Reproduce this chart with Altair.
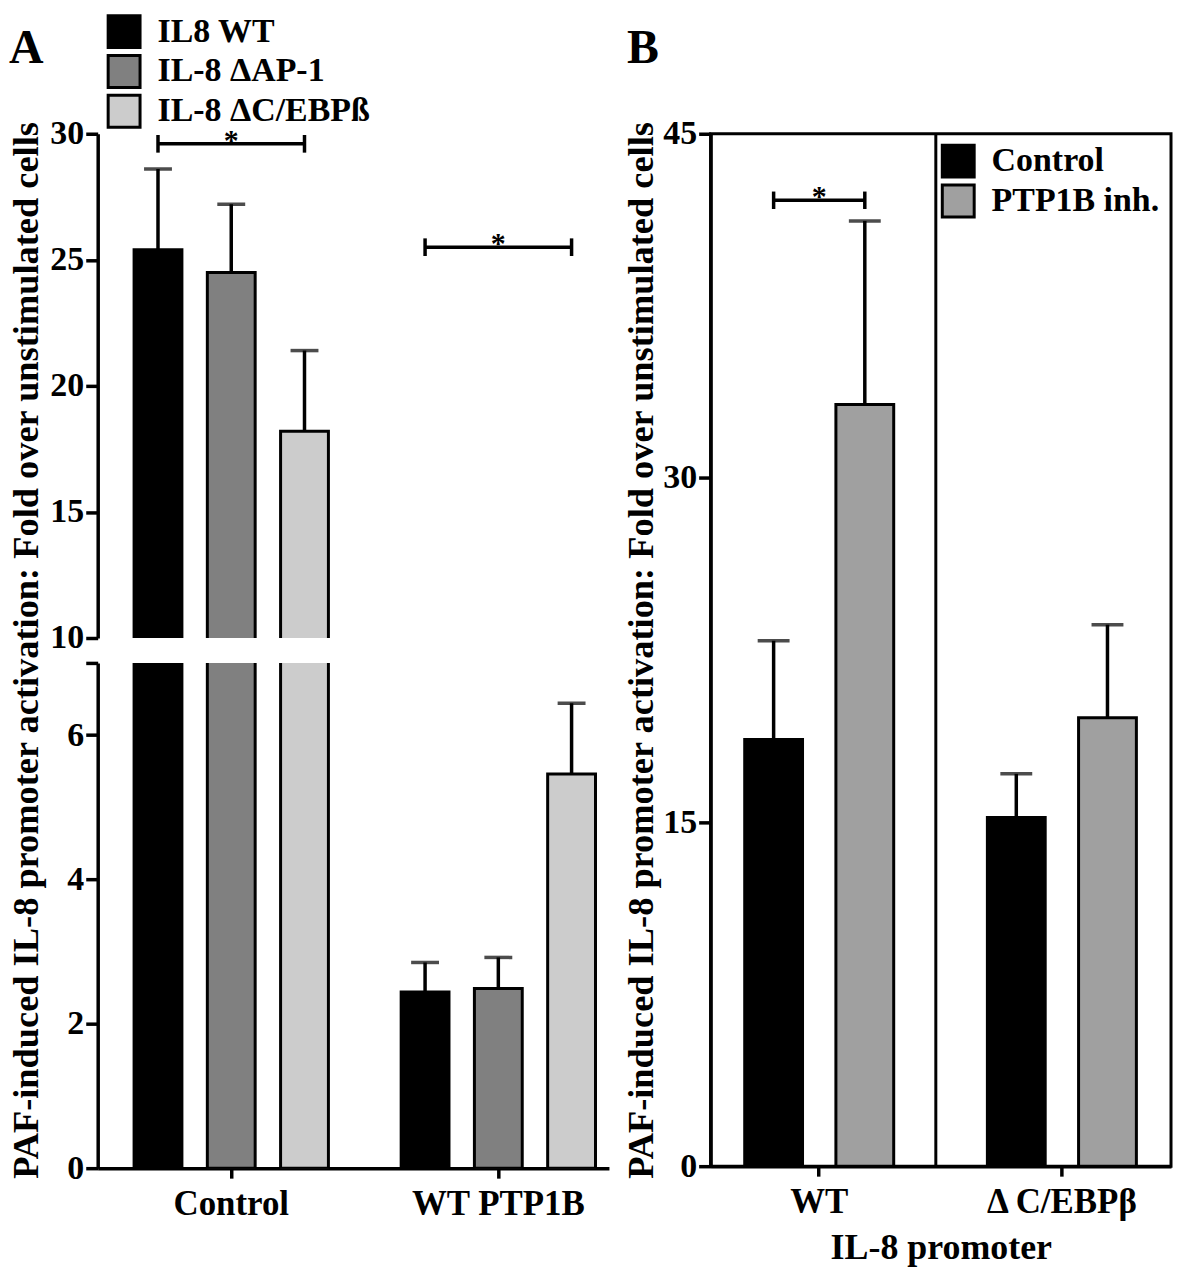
import altair as alt
import pandas as pd

FONT = "Liberation Serif"
Y_TITLE = "PAF-induced IL-8 promoter activation: Fold over unstimulated cells"

# ---------------- Panel A data ----------------
groups_a = ["Control", "WT PTP1B"]
series_a = ["IL8 WT", "IL-8 ΔAP-1", "IL-8 ΔC/EBPß"]
colors_a = ["#000000", "#808080", "#cccccc"]
mean_control_a = [25.4, 24.5, 18.2]
err_top_control_a = [28.6, 27.2, 21.4]
mean_ptp1b_a = [2.44, 2.49, 5.46]
err_top_ptp1b_a = [2.85, 2.92, 6.44]
sig_groups_a = ["Control", "WT PTP1B"]
sig_levels_a = [29.6, 25.5]

# ---------------- Panel B data ----------------
groups_b = ["WT", "Δ C/EBPβ"]
series_b = ["Control", "PTP1B inh."]
colors_b = ["#000000", "#a0a0a0"]
mean_wt_b = [18.6, 33.2]
err_top_wt_b = [22.9, 41.2]
mean_dc_b = [15.2, 19.55]
err_top_dc_b = [17.1, 23.6]
sig_groups_b = ["WT"]
sig_levels_b = [42.1]

# ---------------- tables ----------------
df_a = pd.DataFrame({
    "group": [g for g in groups_a for _ in series_a],
    "series": series_a * len(groups_a),
    "mean": mean_control_a + mean_ptp1b_a,
    "top": err_top_control_a + err_top_ptp1b_a,
})
df_b = pd.DataFrame({
    "group": [g for g in groups_b for _ in series_b],
    "series": series_b * len(groups_b),
    "mean": mean_wt_b + mean_dc_b,
    "top": err_top_wt_b + err_top_dc_b,
})


def brackets(groups, levels, series, half):
    rows = []
    for i, (g, lv) in enumerate(zip(groups, levels)):
        for s in (series[0], series[-1]):
            rows.append({"id": i, "group": g, "series": s, "level": lv,
                         "lo": lv - half, "hi": lv + half})
    return pd.DataFrame(rows)


br_a = brackets(sig_groups_a, sig_levels_a, series_a, 0.35)
br_b = brackets(sig_groups_b, sig_levels_b, series_b, 0.38)
star_a = pd.DataFrame({"group": sig_groups_a, "level": sig_levels_a, "t": ["*"] * len(sig_groups_a)})
star_b = pd.DataFrame({"group": sig_groups_b, "level": sig_levels_b, "t": ["*"] * len(sig_groups_b)})

# ---------------- scales ----------------
xs_a = alt.Scale(domain=groups_a, paddingInner=0.1772, paddingOuter=0.0457, align=0.97)
xo_a = alt.Scale(domain=series_a, paddingInner=0.347, paddingOuter=0.1735)
col_a = alt.Scale(domain=series_a, range=colors_a)

xs_b = alt.Scale(domain=groups_b, paddingInner=0.2485, paddingOuter=0.0729, align=0.493)
xo_b = alt.Scale(domain=series_b, paddingInner=0.366, paddingOuter=0.183)
col_b = alt.Scale(domain=series_b, range=colors_b)

legend_common = dict(title=None, orient="none", direction="vertical", symbolType="square",
                     symbolSize=1024, symbolStrokeColor="black", symbolStrokeWidth=3,
                     symbolOpacity=1, labelFont=FONT, labelFontSize=34, labelFontWeight="bold",
                     labelColor="black", labelLimit=600, labelOffset=16, rowPadding=-14, padding=0)
legend_a = alt.Legend(legendX=9, legendY=-120, **legend_common)
legend_b = alt.Legend(legendX=231, legendY=10, **legend_common)

W_A, H_UP, H_LO, GAP_A = 513, 506, 507, 25
W_B, H_B = 462, 1036
GAP_AB = 102
TITLE_SIZE = 36.5


def panel_a_part(ydomain, yvalues, top_part):
    ys = alt.Scale(domain=ydomain, nice=False, zero=False)
    if top_part:
        yax = alt.Axis(values=yvalues, titleX=-89, titleY=518, titleAngle=270,
                       titleAlign="center", titleBaseline="top", titleFontSize=TITLE_SIZE)
        ytitle = Y_TITLE
        xax = None
    else:
        yax = alt.Axis(values=yvalues, labelExpr="datum.value == 7 ? '' : datum.label")
        ytitle = None
        xax = alt.Axis(title=None, labelLimit=400)

    def X():
        return alt.X("group:N", scale=xs_a, axis=xax, title=None)

    def XO():
        return alt.XOffset("series:N", scale=xo_a)

    def Y(f):
        return alt.Y(f, type="quantitative", scale=ys, axis=yax, title=ytitle)

    color = alt.Color("series:N", scale=col_a, legend=legend_a)
    bars = alt.Chart(df_a).mark_bar(clip=True, stroke="black", strokeWidth=3).encode(
        x=X(), xOffset=XO(), y=Y("mean"), color=color)
    err = alt.Chart(df_a).mark_rule(clip=True, color="black", strokeWidth=3.5).encode(
        x=X(), xOffset=XO(), y=Y("mean"), y2="top")
    cap = alt.Chart(df_a).mark_tick(clip=True, color="black", size=28, thickness=3.5).encode(
        x=X(), xOffset=XO(), y=Y("top"))
    layers = [bars, err, cap]
    if top_part:
        bl = alt.Chart(br_a).mark_line(color="black", strokeWidth=3.5).encode(
            x=X(), xOffset=XO(), y=Y("level"), detail="id:N")
        bc = alt.Chart(br_a).mark_rule(color="black", strokeWidth=3.5).encode(
            x=X(), xOffset=XO(), y=Y("lo"), y2="hi")
        st = alt.Chart(star_a).mark_text(font=FONT, fontSize=30, fontWeight="bold",
                                         baseline="alphabetic", dy=6, color="black").encode(
            x=X(), y=Y("level"), text="t:N")
        letter = alt.Chart(pd.DataFrame({"t": ["A"]})).mark_text(
            font=FONT, fontSize=48, fontWeight="bold", align="left", baseline="alphabetic",
            color="black").encode(x=alt.value(-89), y=alt.value(-71), text="t:N")
        # invisible anchor fixing the top-left corner of the drawing
        anchor = alt.Chart(pd.DataFrame({"t": ["A"]})).mark_point(
            size=1, opacity=0, strokeWidth=0).encode(x=alt.value(-88), y=alt.value(-123))
        layers += [bl, bc, st, letter, anchor]
    return alt.layer(*layers).properties(width=W_A, height=H_UP if top_part else H_LO)


upper_a = panel_a_part([10, 30], [10, 15, 20, 25, 30], True)
lower_a = panel_a_part([0, 7], [0, 2, 4, 6, 7], False)
panel_a = alt.vconcat(upper_a, lower_a, spacing=GAP_A, bounds="flush")

# ---------------- Panel B ----------------
ys_b = alt.Scale(domain=[0, 45], nice=False, zero=True)
yax_b = alt.Axis(values=[0, 15, 30, 45], titleX=-87, titleAngle=270, titleAlign="center",
                 titleBaseline="top", titleFontSize=TITLE_SIZE)
xax_b = alt.Axis(title="IL-8 promoter", labelLimit=400, titleFontSize=36, titlePadding=12)


def XB(**kw):
    return alt.X("group:N", scale=xs_b, axis=xax_b, title="IL-8 promoter", **kw)


def XOB():
    return alt.XOffset("series:N", scale=xo_b)


def YB(f):
    return alt.Y(f, type="quantitative", scale=ys_b, axis=yax_b, title=Y_TITLE)


bars_b = alt.Chart(df_b).mark_bar(stroke="black", strokeWidth=3).encode(
    x=XB(), xOffset=XOB(), y=YB("mean"), color=alt.Color("series:N", scale=col_b, legend=legend_b))
err_b = alt.Chart(df_b).mark_rule(color="black", strokeWidth=3.5).encode(
    x=XB(), xOffset=XOB(), y=YB("mean"), y2="top")
cap_b = alt.Chart(df_b).mark_tick(color="black", size=32, thickness=3.5).encode(
    x=XB(), xOffset=XOB(), y=YB("top"))
bl_b = alt.Chart(br_b).mark_line(color="black", strokeWidth=3.5).encode(
    x=XB(), xOffset=XOB(), y=YB("level"), detail="id:N")
bc_b = alt.Chart(br_b).mark_rule(color="black", strokeWidth=3.5).encode(
    x=XB(), xOffset=XOB(), y=YB("lo"), y2="hi")
st_b = alt.Chart(star_b).mark_text(font=FONT, fontSize=30, fontWeight="bold",
                                   baseline="alphabetic", dy=6, color="black").encode(
    x=XB(), y=YB("level"), text="t:N")
# separator between the two promoter groups: start of second band, shifted into the gap
sep_b = alt.Chart(pd.DataFrame({"group": [groups_b[1]]})).mark_rule(
    color="black", strokeWidth=3, xOffset=-35).encode(x=XB(bandPosition=0))
letter_b = alt.Chart(pd.DataFrame({"t": ["B"]})).mark_text(
    font=FONT, fontSize=48, fontWeight="bold", align="left", baseline="alphabetic",
    color="black").encode(x=alt.value(-84), y=alt.value(-71), text="t:N")

panel_b = alt.layer(bars_b, err_b, cap_b, bl_b, bc_b, st_b, sep_b, letter_b).properties(
    width=W_B, height=H_B, view=alt.ViewBackground(stroke="black", strokeWidth=3))

# with flush bounds the nested panel A counts as zero width, so the spacing carries its width
chart = alt.hconcat(panel_a, panel_b, spacing=W_A + GAP_AB, bounds="flush").resolve_scale(
    color="independent", xOffset="independent", x="independent", y="independent"
).resolve_legend(color="independent").properties(
    padding=0, background="white"
).configure_view(stroke=None).configure_axis(
    domainColor="black", domainWidth=3.5, tickColor="black", tickWidth=3.5, tickSize=12,
    labelFont=FONT, labelFontSize=34, labelFontWeight="bold", labelColor="black",
    labelPadding=2, titleFont=FONT, titleFontWeight="bold", titleColor="black",
    grid=False, labelOverlap=False
).configure_axisX(tickSize=10, labelPadding=8, labelFontSize=35, labelAngle=0)

chart.save("out.html", embed_options={"renderer": "svg", "actions": False})
